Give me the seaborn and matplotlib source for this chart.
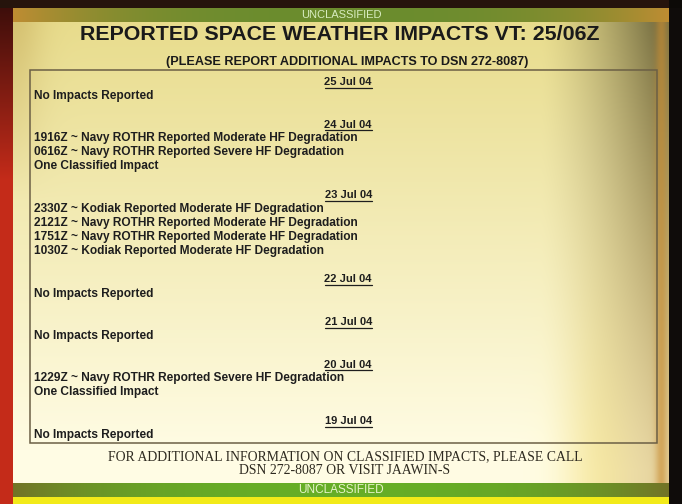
import numpy as np
import matplotlib.pyplot as plt
import seaborn as sns

# ? slide content
banner = "UNCLASSIFIED"
title = "REPORTED SPACE WEATHER IMPACTS VT: 25/06Z"
subtitle = "(PLEASE REPORT ADDITIONAL IMPACTS TO DSN 272-8087)"
dates = ["25 Jul 04", "24 Jul 04", "23 Jul 04", "22 Jul 04",
         "21 Jul 04", "20 Jul 04", "19 Jul 04"]
impacts = [
    ["No Impacts Reported"],
    ["1916Z ~ Navy ROTHR Reported Moderate HF Degradation",
     "0616Z ~ Navy ROTHR Reported Severe HF Degradation",
     "One Classified Impact"],
    ["2330Z ~ Kodiak Reported Moderate HF Degradation",
     "2121Z ~ Navy ROTHR Reported Moderate HF Degradation",
     "1751Z ~ Navy ROTHR Reported Moderate HF Degradation",
     "1030Z ~ Kodiak Reported Moderate HF Degradation"],
    ["No Impacts Reported"],
    ["No Impacts Reported"],
    ["1229Z ~ Navy ROTHR Reported Severe HF Degradation",
     "One Classified Impact"],
    ["No Impacts Reported"],
]
footer = ["FOR ADDITIONAL INFORMATION ON CLASSIFIED IMPACTS, PLEASE CALL",
          "DSN 272-8087 OR VISIT JAAWIN-S"]

W, H = 682, 504

sns.set_theme(style="white")
plt.rcParams["font.family"] = ["Liberation Sans", "DejaVu Sans"]

# * background: yellow slide with dark / red frame
yy, xx = np.mgrid[0:H, 0:W].astype(float)
img = np.zeros((H, W, 3))
top_col = np.array([232, 220, 140]) / 255
bot_col = np.array([255, 252, 228]) / 255
t = np.clip((yy - 20) / 430, 0, 1)[..., None]
img[:] = top_col * (1 - t) + bot_col * t
# pale yellow band around x~600 lower down
glow = np.exp(-((xx - 600) / 40) ** 2) * np.clip((yy - 150) / 300, 0, 1)
img += (np.array([255, 240, 140]) / 255 - img) * (0.5 * glow)[..., None]
# dark olive right side, stronger at the top, golden at the bottom
dk = np.clip((xx - 540) / 115, 0, 1) ** 1.4
top_w = (1 - np.clip(yy / 470, 0, 1))
dark_col = np.array([0.33, 0.31, 0.18])
gold_col = np.array([0.78, 0.64, 0.32])
mixc = dark_col * top_w[..., None] + gold_col * (1 - top_w[..., None])
wgt = (dk * (0.45 + 0.35 * top_w))[..., None]
img = img * (1 - wgt) + mixc * wgt
# orange rim near right edge
rim = np.exp(-((xx - 661) / 6) ** 2)
img += (np.array([200, 140, 50]) / 255 - img) * (0.6 * rim)[..., None]
# golden upper-left tint
ul = np.exp(-((xx - 12) / 30) ** 2) * np.clip(1 - yy / 200, 0, 1)
img += (np.array([190, 160, 80]) / 255 - img) * (0.5 * ul)[..., None]

# left red strip
left = xx < 13
redt = np.clip(yy / 180, 0, 1)
red = np.stack([0.22 + 0.55 * redt, 0.05 + 0.12 * redt, 0.04 + 0.06 * redt], -1)
img[left] = red[left]
# right black strip, top dark strip
img[xx >= 669] = [0.06, 0.05, 0.04]
img[yy < 8] = [0.15, 0.08, 0.05]
img[(yy < 8) & (xx >= 669)] = [0.05, 0.04, 0.03]

# green banners
def green_band(y0, y1, base, edge):
    band = (yy >= y0) & (yy < y1) & (xx >= 13) & (xx < 669)
    e = np.clip(np.abs(xx - 341) / 328, 0, 1) ** 3
    col = np.array(base) * (1 - e[..., None]) + np.array(edge) * e[..., None]
    img[band] = col[band]


green_band(8, 22, [0.42, 0.55, 0.18], [0.75, 0.55, 0.2])
green_band(483, 497, [0.40, 0.68, 0.15], [0.45, 0.45, 0.15])
img[(yy >= 497) & (xx >= 13) & (xx < 669)] = [0.95, 0.92, 0.1]
img = np.clip(img, 0, 1)

fig = plt.figure(figsize=(W / 100, H / 100), dpi=100)
ax = fig.add_axes([0, 0, 1, 1])
ax.imshow(img, extent=(0, W, H, 0), aspect="auto", interpolation="bilinear")
ax.set_xlim(0, W)
ax.set_ylim(H, 0)
ax.axis("off")

ax.text(341, 15.5, banner, ha="center", va="center", fontsize=8,
        color="#d8ecc0")
ax.text(341, 490, banner, ha="center", va="center", fontsize=8.5,
        color="#e6f4c8")
ax.text(340, 34.5, title, ha="center", va="center", fontsize=15.4,
        fontweight="bold", color="#1a1a1a")
ax.text(347, 61.5, subtitle, ha="center", va="center", fontsize=9.1,
        fontweight="bold", color="#1a1a1a")

# inner box
ax.add_patch(plt.Rectangle((30, 70), 627, 373, fill=False,
                           edgecolor="#6b5f45", linewidth=1.1))

# * entries: date header (right aligned, underlined) then impact lines
line_h = 14.0
gap = 14.5
y = 82
date_texts = []
for d, lines in zip(dates, impacts):
    dt = ax.text(372, y, d, ha="right", va="center", fontsize=8,
                 fontweight="bold", color="#1e1e1e")
    date_texts.append((dt, y))
    for k, ln in enumerate(lines):
        ax.text(34, y + line_h * (k + 1), ln, ha="left", va="center",
                fontsize=8.6, fontweight="bold", color="#1e1e1e")
    y += line_h * (len(lines) + 1) + gap

for k, ln in enumerate(footer):
    ax.text(345, 457 + 14 * k, ln, ha="center", va="center", fontsize=9.9,
            family=["Liberation Serif", "DejaVu Serif"], color="#2e2a20")

# underline the dates
fig.canvas.draw()
inv = ax.transData.inverted()
for dt, yd in date_texts:
    bb = dt.get_window_extent()
    x0 = inv.transform((bb.x0, bb.y0))[0]
    x1 = inv.transform((bb.x1, bb.y0))[0]
    ax.plot([x0, x1], [yd + 5.5, yd + 5.5], color="#1e1e1e", linewidth=0.9)

fig.savefig("out.png", dpi=100)
